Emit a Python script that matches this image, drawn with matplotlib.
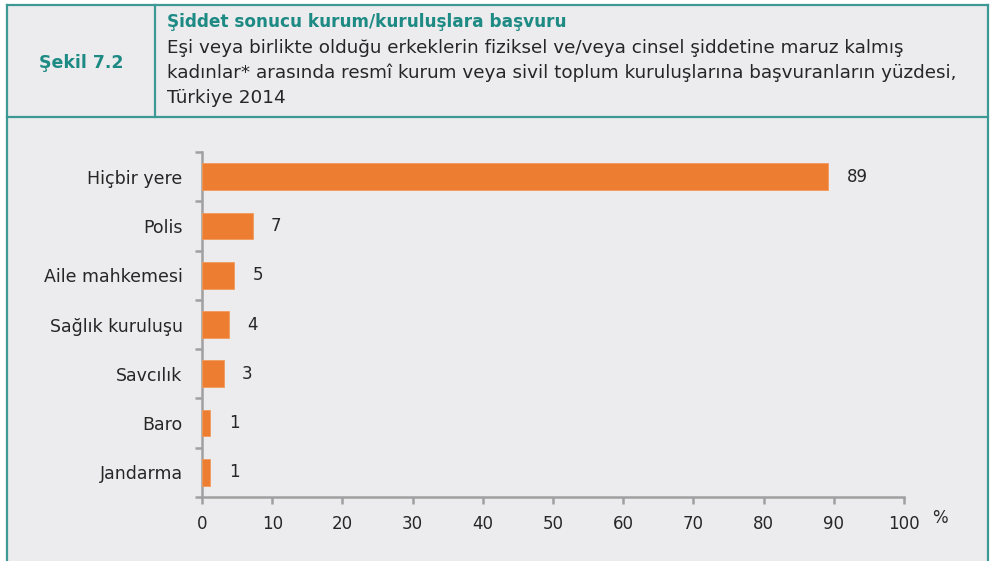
import matplotlib.pyplot as plt
from matplotlib.patches import Rectangle
from matplotlib.lines import Line2D

# data
categories = ["Hiçbir yere", "Polis", "Aile mahkemesi", "Sağlık kuruluşu",
              "Savcılık", "Baro", "Jandarma"]
values = [89.2, 7.2, 4.6, 3.8, 3.1, 1.2, 1.2]
value_labels = ["89", "7", "5", "4", "3", "1", "1"]
x_ticks = [0, 10, 20, 30, 40, 50, 60, 70, 80, 90, 100]

fig_label = "Şekil 7.2"
title = "Şiddet sonucu kurum/kuruluşlara başvuru"
subtitle = ["Eşi veya birlikte olduğu erkeklerin fiziksel ve/veya cinsel şiddetine maruz kalmış",
            "kadınlar* arasında resmî kurum veya sivil toplum kuruluşlarına başvuranların yüzdesi,",
            "Türkiye 2014"]

W, H = 990, 561
TEAL = "#3d9994"
TEAL_TXT = "#1e8a84"
BG = "#ececee"
ORANGE = "#ed7d31"
AXIS = "#a0a0a0"
TXT = "#262626"

plt.rcParams['font.family'] = ['DejaVu Sans']


def fx(x):
    return x / W


def fy(y):
    return 1 - y / H


fig = plt.figure(figsize=(W / 100, H / 100), dpi=100)
fig.patch.set_facecolor("white")

# panel background and frame
fig.add_artist(Rectangle((fx(7), 0), fx(988) - fx(7), fy(5), transform=fig.transFigure,
                         facecolor=BG, edgecolor="none", zorder=-10))
for (x0, y0, x1, y1) in [(7, 5, 988, 5), (7, 117, 988, 117), (7, 5, 7, 561),
                         (988, 5, 988, 561), (155, 5, 155, 117)]:
    fig.add_artist(Line2D([fx(x0), fx(x1)], [fy(y0), fy(y1)], transform=fig.transFigure,
                          color=TEAL, lw=1.6))

# header texts
fig.text(fx(81), fy(63), fig_label, ha="center", va="center", color=TEAL_TXT,
         fontsize=12.5, fontweight="bold")
fig.text(fx(167), fy(22), title, ha="left", va="center", color=TEAL_TXT,
         fontsize=12.2, fontweight="bold")
for i, line in enumerate(subtitle):
    fig.text(fx(167), fy(48 + 25 * i), line, ha="left", va="center", color=TXT, fontsize=13.2)

# chart
ax = fig.add_axes([fx(202), fy(497), fx(904) - fx(202), fy(152) - fy(497)])
ax.set_facecolor("none")
pos = list(range(len(categories)))
ax.barh(pos, values, height=0.54, color=ORANGE, edgecolor="#f39a5c", lw=0.6, zorder=3)
for p, v, lab in zip(pos, values, value_labels):
    ax.text(v + 2.6, p, lab, ha="left", va="center", fontsize=12, color=TXT)

ax.set_xlim(0, 100)
ax.set_ylim(len(categories) - 0.5, -0.5)
ax.set_xticks(x_ticks)
ax.set_xticklabels([str(t) for t in x_ticks], fontsize=12, color=TXT)
ax.set_yticks(pos)
ax.set_yticklabels(categories, fontsize=12.5, color=TXT)
ax.set_yticks([p - 0.5 for p in pos] + [len(pos) - 0.5], minor=True)
ax.tick_params(axis="y", which="major", length=0, pad=14)
ax.tick_params(axis="y", which="minor", length=5, width=1.8, color=AXIS)
ax.tick_params(axis="x", length=5, width=1.8, color=AXIS, pad=8)
for side in ["top", "right"]:
    ax.spines[side].set_visible(False)
for side in ["left", "bottom"]:
    ax.spines[side].set_color(AXIS)
    ax.spines[side].set_linewidth(1.8)

fig.text(fx(940), fy(518), "%", ha="center", va="center", fontsize=12, color=TXT)

fig.savefig("out.png", dpi=100, facecolor=fig.get_facecolor())
